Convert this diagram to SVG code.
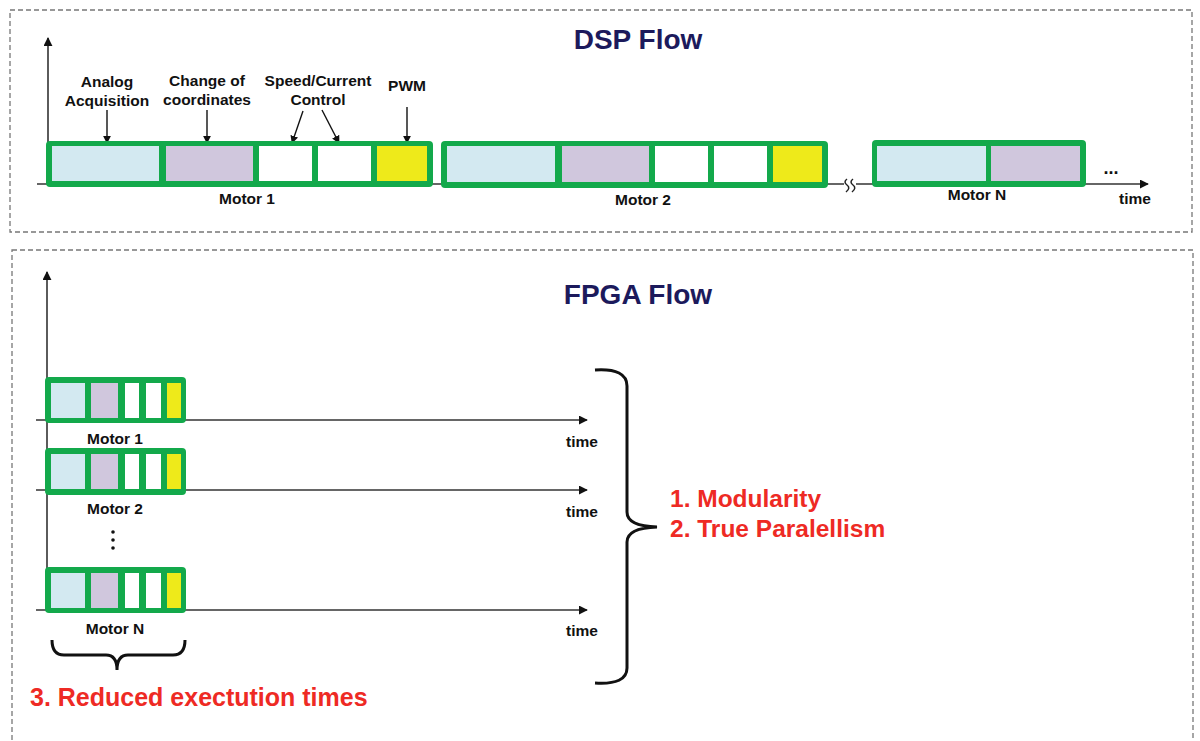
<svg xmlns="http://www.w3.org/2000/svg" width="1200" height="741" viewBox="0 0 1200 741">
<defs>
<style>
.frame{fill:none;stroke:#777;stroke-width:1.3;stroke-dasharray:5 3}
.title{font-family:"Liberation Sans",Arial,sans-serif;font-weight:bold;font-size:28px;fill:#1c1a5c;text-anchor:middle}
.lbl{font-family:"Liberation Sans",Arial,sans-serif;font-weight:bold;font-size:15.5px;fill:#111;text-anchor:middle}
.red{font-family:"Liberation Sans",Arial,sans-serif;font-weight:bold;font-size:24.5px;fill:#ee2a24}
.g{fill:#13a94b}
.b{fill:#d3e9f1}
.p{fill:#d0c7dd}
.w{fill:#ffffff}
.y{fill:#eeea1a}
.ax{fill:none;stroke:#333;stroke-width:1.6}
.ar{fill:none;stroke:#111;stroke-width:1.4}
.br{fill:none;stroke:#111;stroke-width:3}
</style>
<marker id="ah" viewBox="0 0 10 10" refX="9" refY="5" markerWidth="9" markerHeight="9" markerUnits="userSpaceOnUse" orient="auto">
<path d="M0,0 L10,5 L0,10 Z" fill="#111"/>
</marker>
<marker id="ah2" viewBox="0 0 10 10" refX="9" refY="5" markerWidth="8" markerHeight="8" markerUnits="userSpaceOnUse" orient="auto">
<path d="M0,0 L10,5 L0,10 Z" fill="#111"/>
</marker>
</defs>
<rect width="1200" height="741" fill="#fff"/>

<g id="dsp-frame">
<rect class="frame" x="10" y="10" width="1182" height="222"/>
<text class="title" x="638" y="49">DSP Flow</text>
</g>
<g id="fpga-frame">
<rect class="frame" x="12" y="250" width="1181" height="500"/>
<text class="title" x="638" y="304">FPGA Flow</text>
</g>

<g id="connectors">
<!-- DSP axes -->
<line class="ax" x1="48" y1="184" x2="48" y2="38" marker-end="url(#ah)"/>
<line class="ax" x1="37" y1="184" x2="844" y2="184"/>
<line class="ax" x1="856" y1="184" x2="1148" y2="184" marker-end="url(#ah)"/>
<path d="M847,179 q-4,3 0,6 q4,3 -1,7 M853,179 q-4,3 0,6 q4,3 -1,7" fill="none" stroke="#222" stroke-width="1.5"/>
<!-- label arrows -->
<line class="ar" x1="107" y1="110" x2="107" y2="143" marker-end="url(#ah2)"/>
<line class="ar" x1="207" y1="110" x2="207" y2="143" marker-end="url(#ah2)"/>
<line class="ar" x1="303" y1="111" x2="292" y2="143" marker-end="url(#ah2)"/>
<line class="ar" x1="322" y1="110" x2="339" y2="143" marker-end="url(#ah2)"/>
<line class="ar" x1="407" y1="107" x2="407" y2="143" marker-end="url(#ah2)"/>
<!-- FPGA axes -->
<line class="ax" x1="47" y1="610" x2="47" y2="272" marker-end="url(#ah)"/>
<line class="ax" x1="36" y1="420" x2="587" y2="420" marker-end="url(#ah)"/>
<line class="ax" x1="36" y1="490" x2="587" y2="490" marker-end="url(#ah)"/>
<line class="ax" x1="36" y1="610" x2="587" y2="610" marker-end="url(#ah)"/>
<!-- braces -->
<path class="br" d="M52,640 Q52,655 64,655 L106,655 Q117,655 117,670 Q117,655 128,655 L173,655 Q185,655 185,640"/>
<path class="br" d="M595,370 Q627,368 627,386 L627,512 Q627,526 657,527 Q627,528 627,542 L627,668 Q627,685 595,683"/>
</g>

<g id="dsp-labels">
<text class="lbl" x="107" y="87">Analog</text>
<text class="lbl" x="107" y="106">Acquisition</text>
<text class="lbl" x="207" y="86">Change of</text>
<text class="lbl" x="207" y="105">coordinates</text>
<text class="lbl" x="318" y="86">Speed/Current</text>
<text class="lbl" x="318" y="105">Control</text>
<text class="lbl" x="407" y="91">PWM</text>
<text class="lbl" x="1111" y="174" style="font-size:18px">...</text>
<text class="lbl" x="1135" y="204">time</text>
</g>

<g id="dsp-motor1">
<rect class="g" x="46" y="141" width="387" height="46" rx="4"/>
<rect class="b" x="52" y="146" width="107" height="35"/>
<rect class="p" x="166" y="146" width="87" height="35"/>
<rect class="w" x="259" y="146" width="53" height="35"/>
<rect class="w" x="318" y="146" width="53" height="35"/>
<rect class="y" x="377" y="146" width="50" height="35"/>
<text class="lbl" x="247" y="204">Motor 1</text>
</g>
<g id="dsp-motor2">
<rect class="g" x="441" y="141" width="387" height="47" rx="4"/>
<rect class="b" x="447" y="146" width="108" height="36"/>
<rect class="p" x="562" y="146" width="87" height="36"/>
<rect class="w" x="655" y="146" width="53" height="36"/>
<rect class="w" x="714" y="146" width="53" height="36"/>
<rect class="y" x="773" y="146" width="49" height="36"/>
<text class="lbl" x="643" y="205">Motor 2</text>
</g>
<g id="dsp-motorN">
<rect class="g" x="872" y="140" width="214" height="47" rx="4"/>
<rect class="b" x="877" y="146" width="109" height="35"/>
<rect class="p" x="991" y="146" width="89" height="35"/>
<text class="lbl" x="977" y="200">Motor N</text>
</g>

<g id="fpga-motor1">
<rect class="g" x="45" y="377" width="141" height="46" rx="4"/>
<rect class="b" x="51" y="383" width="34" height="35"/>
<rect class="p" x="91" y="383" width="27" height="35"/>
<rect class="w" x="125" y="383" width="14" height="35"/>
<rect class="w" x="146" y="383" width="15" height="35"/>
<rect class="y" x="167" y="383" width="14" height="35"/>
<text class="lbl" x="115" y="444">Motor 1</text>
</g>
<g id="fpga-motor2">
<rect class="g" x="45" y="448" width="141" height="47" rx="4"/>
<rect class="b" x="51" y="454" width="34" height="35"/>
<rect class="p" x="91" y="454" width="27" height="35"/>
<rect class="w" x="125" y="454" width="14" height="35"/>
<rect class="w" x="146" y="454" width="15" height="35"/>
<rect class="y" x="167" y="454" width="14" height="35"/>
<text class="lbl" x="115" y="514">Motor 2</text>
</g>
<g id="fpga-dots">
<circle cx="113" cy="532" r="1.8" fill="#111"/>
<circle cx="113" cy="540" r="1.8" fill="#111"/>
<circle cx="113" cy="548" r="1.8" fill="#111"/>
</g>
<g id="fpga-motorN">
<rect class="g" x="45" y="567" width="141" height="46" rx="4"/>
<rect class="b" x="51" y="573" width="34" height="35"/>
<rect class="p" x="91" y="573" width="27" height="35"/>
<rect class="w" x="125" y="573" width="14" height="35"/>
<rect class="w" x="146" y="573" width="15" height="35"/>
<rect class="y" x="167" y="573" width="14" height="35"/>
<text class="lbl" x="115" y="634">Motor N</text>
</g>

<g id="fpga-labels">
<text class="lbl" x="582" y="447">time</text>
<text class="lbl" x="582" y="517">time</text>
<text class="lbl" x="582" y="636">time</text>
<text class="red" x="670" y="507">1. Modularity</text>
<text class="red" x="670" y="537">2. True Paralellism</text>
<text class="red" x="30" y="706" style="font-size:25px">3. Reduced exectution times</text>
</g>
</svg>
